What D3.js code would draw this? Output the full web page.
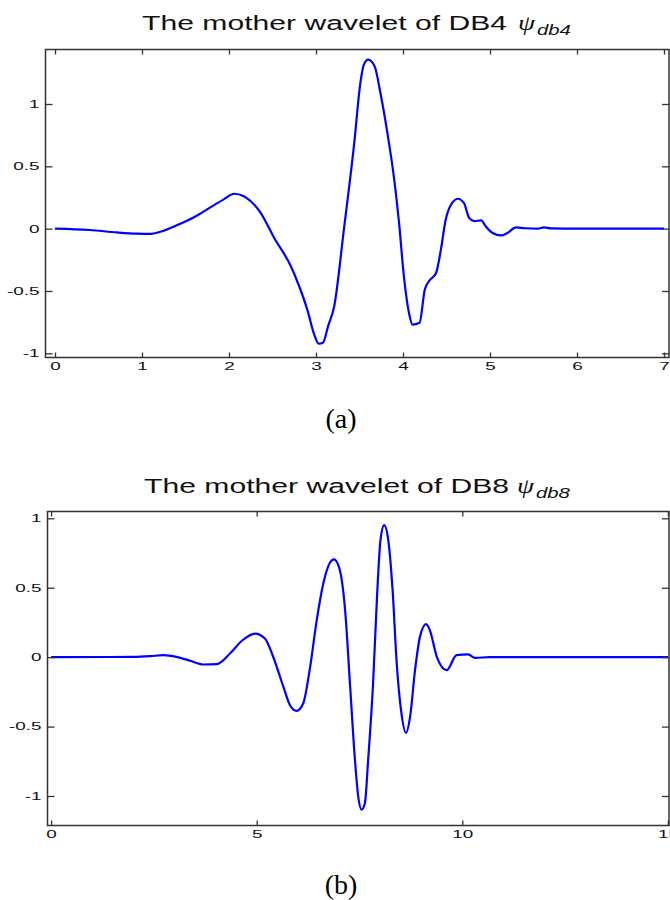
<!DOCTYPE html>
<html>
<head>
<meta charset="utf-8">
<script src="https://cdn.jsdelivr.net/npm/d3@7"></script>
<style>
  html, body { margin: 0; padding: 0; background: #fff; }
  svg { display: block; }
</style>
</head>
<body>
<svg id="fig" width="670" height="900"></svg>
<script>
// Daubechies mother wavelet DB4 (support 0..7)
const db4X = [0, 0.40, 0.71, 0.94, 1.09, 1.21, 1.40, 1.63, 1.82, 1.94, 2.06, 2.17, 2.36, 2.52, 2.71, 2.80, 2.90, 2.98,
  3.03, 3.08, 3.14, 3.21, 3.32, 3.44, 3.51, 3.55, 3.60, 3.675, 3.74, 3.82, 3.90, 3.955, 4.01, 4.07, 4.11, 4.19,
  4.25, 4.30, 4.38, 4.435, 4.49, 4.55, 4.63, 4.70, 4.76, 4.82, 4.90, 4.95, 5.03, 5.13, 5.20, 5.30, 5.40, 5.55,
  5.62, 5.70, 6.0, 7.0];
const db4Y = [0, -0.011, -0.03, -0.04, -0.042, -0.025, 0.027, 0.104, 0.185, 0.235, 0.28, 0.26, 0.131, -0.075, -0.30, -0.45, -0.65, -0.85,
  -0.923, -0.915, -0.78, -0.62, -0.01, 0.69, 1.17, 1.316, 1.356, 1.30, 1.09, 0.77, 0.39, 0.045, -0.38, -0.68, -0.77, -0.755,
  -0.49, -0.42, -0.356, -0.17, 0.07, 0.19, 0.24, 0.206, 0.086, 0.06, 0.067, 0.019, -0.035, -0.054, -0.035, 0.01, 0.003, 0.0,
  0.01, 0.002, 0, 0];

// Daubechies mother wavelet DB8 (support 0..15)
const db8X = [0, 2.0, 2.41, 2.73, 3.05, 3.38, 3.70, 4.03, 4.35, 4.64, 4.96, 5.20, 5.40, 5.65, 5.81, 5.97, 6.13, 6.30,
  6.46, 6.62, 6.78, 6.88, 7.01, 7.15, 7.27, 7.39, 7.47, 7.55, 7.63, 7.71, 7.83, 7.93, 8.01, 8.10, 8.20, 8.31, 8.40,
  8.51, 8.63, 8.73, 8.85, 8.97, 9.12, 9.21, 9.38, 9.62, 9.86, 10.14, 10.31, 10.67, 15];
const db8Y = [0, 0.002, 0.007, 0.014, 0.002, -0.026, -0.053, -0.05, 0.026, 0.118, 0.17, 0.134, 0.003, -0.214, -0.346, -0.387, -0.334, -0.07,
  0.267, 0.531, 0.68, 0.704, 0.64, 0.339, -0.2, -0.742, -1.006, -1.098, -1.054, -0.742, -0.19, 0.459, 0.843, 0.951, 0.843, 0.459, -0.022,
  -0.382, -0.545, -0.43, -0.094, 0.146, 0.238, 0.195, 0.002, -0.094, 0.014, 0.02, -0.005, 0, 0];

// Tick values
const db4XTicks = [0, 1, 2, 3, 4, 5, 6, 7];
const db8XTicks = [0, 5, 10, 15];
const yTicks = [-1, -0.5, 0, 0.5, 1];

// Panel texts
const titles = ["The mother wavelet of DB4", "The mother wavelet of DB8"];
const subscripts = ["db4", "db8"];
const captions = ["(a)", "(b)"];

const svg = d3.select("#fig");
const AXIS = "#333";
const SANS = "'Liberation Sans', Arial, Helvetica, sans-serif";
const SERIF = "'Liberation Serif', 'Times New Roman', serif";
const LABEL_STRETCH = 1.8;   // tick labels are drawn wide
const TITLE_STRETCH = 1.47;

const panels = [
  {
    xs: db4X, ys: db4Y, xTicks: db4XTicks,
    box: { l: 45.5, t: 49.5, r: 669, b: 357.5 },
    xDomain: [0, 7], xRange: [55, 664],
    yRange: [353.3, 104],
    titleX: 142, titleY: 30, psiX: 518, subX: 537,
    captionY: 428
  },
  {
    xs: db8X, ys: db8Y, xTicks: db8XTicks,
    box: { l: 47.5, t: 511.5, r: 669, b: 825.5 },
    xDomain: [0, 15], xRange: [51.1, 667.9],
    yRange: [796, 518.3],
    titleX: 144, titleY: 493, psiX: 517, subX: 536,
    captionY: 894
  }
];

panels.forEach((p, i) => {
  const g = svg.append("g");
  const x = d3.scaleLinear().domain(p.xDomain).range(p.xRange);
  const y = d3.scaleLinear().domain([-1, 1]).range(p.yRange);
  const fmt = d => String(d);

  // Title with Greek psi and italic subscript
  g.append("text")
    .attr("transform", `translate(${p.titleX},${p.titleY}) scale(${TITLE_STRETCH},1)`)
    .attr("font-family", SANS).attr("font-size", 20.5).attr("fill", "#111")
    .text(titles[i]);
  g.append("text")
    .attr("transform", `translate(${p.psiX},${p.titleY}) scale(1.25,1)`)
    .attr("font-family", SERIF).attr("font-style", "italic").attr("font-size", 22).attr("fill", "#111")
    .text("\u03C8");
  g.append("text")
    .attr("transform", `translate(${p.subX},${p.titleY + 5}) scale(1.45,1)`)
    .attr("font-family", SANS).attr("font-style", "italic").attr("font-size", 14).attr("fill", "#111")
    .text(subscripts[i]);

  // Curve
  const line = d3.line()
    .x((d, k) => x(p.xs[k]))
    .y((d, k) => y(p.ys[k]))
    .curve(d3.curveMonotoneX);
  g.append("path")
    .datum(p.xs)
    .attr("d", line)
    .attr("fill", "none")
    .attr("stroke", "#0000ff")
    .attr("stroke-width", 2.2)
    .attr("stroke-linejoin", "round");

  // Axes with inward ticks on all four sides
  const b = p.box;
  const styleAxis = sel => {
    sel.select(".domain").remove();
    sel.selectAll(".tick line").attr("stroke", AXIS).attr("stroke-width", 1.3);
  };
  const bottom = g.append("g").attr("transform", `translate(0,${b.b})`)
    .call(d3.axisBottom(x).tickValues(p.xTicks).tickSizeInner(-5).tickSizeOuter(0).tickPadding(5).tickFormat(fmt));
  styleAxis(bottom);
  bottom.selectAll("text")
    .attr("font-family", SANS).attr("font-size", 10.5).attr("fill", "#111")
    .attr("transform", `scale(${LABEL_STRETCH},1)`);

  const left = g.append("g").attr("transform", `translate(${b.l},0)`)
    .call(d3.axisLeft(y).tickValues(yTicks).tickSizeInner(-7).tickSizeOuter(0).tickPadding(6).tickFormat(fmt));
  styleAxis(left);
  left.selectAll("text")
    .attr("font-family", SANS).attr("font-size", 10.5).attr("fill", "#111")
    .attr("x", -6 / LABEL_STRETCH)
    .attr("transform", `scale(${LABEL_STRETCH},1)`);

  const top = g.append("g").attr("transform", `translate(0,${b.t})`)
    .call(d3.axisTop(x).tickValues(p.xTicks).tickSizeInner(-5).tickSizeOuter(0).tickFormat(""));
  styleAxis(top);
  const right = g.append("g").attr("transform", `translate(${b.r},0)`)
    .call(d3.axisRight(y).tickValues(yTicks).tickSizeInner(-7).tickSizeOuter(0).tickFormat(""));
  styleAxis(right);

  g.append("rect")
    .attr("x", b.l).attr("y", b.t)
    .attr("width", b.r - b.l).attr("height", b.b - b.t)
    .attr("fill", "none").attr("stroke", AXIS).attr("stroke-width", 1.5);

  // Panel caption
  g.append("text")
    .attr("x", 341).attr("y", p.captionY)
    .attr("text-anchor", "middle")
    .attr("font-family", SERIF).attr("font-size", 28).attr("fill", "#000")
    .text(captions[i]);
});
</script>
</body>
</html>
